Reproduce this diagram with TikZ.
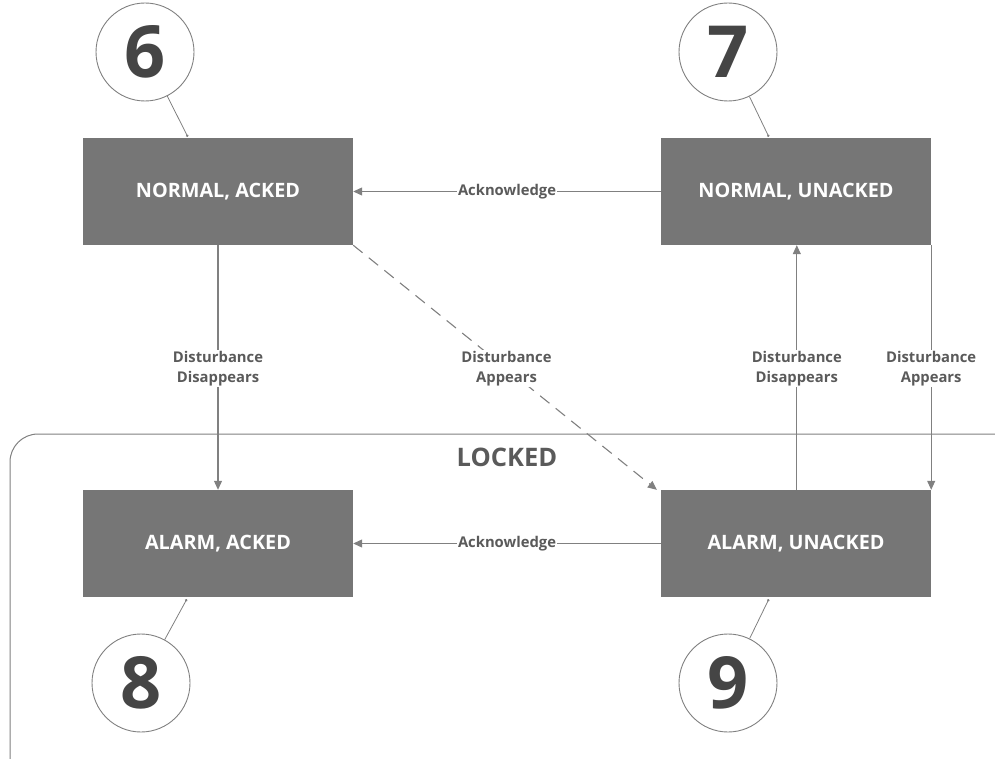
\documentclass[tikz,border=0pt]{standalone}
\usepackage{fontspec}
\setmainfont{Open Sans}
\usetikzlibrary{arrows.meta,calc}
\definecolor{boxgray}{HTML}{767676}
\definecolor{linegray}{HTML}{808080}
\definecolor{labgray}{HTML}{5A5A5A}
\definecolor{numgray}{HTML}{454545}
\tikzset{
  statebox/.style={draw=none,fill=boxgray,minimum width=270pt,minimum height=107pt,inner sep=0pt,
    text=white,font=\bfseries\fontsize{19.8}{23}\selectfont},
  numcirc/.style={circle,draw=linegray,line width=0.9pt,fill=white,minimum size=98pt,inner sep=0pt,
    text=numgray,font=\bfseries\fontsize{72}{74}\selectfont},
  conn/.style={draw=linegray,line width=1.1pt,-{Triangle[length=9pt,width=8pt]}},
  pin/.style={draw=linegray,line width=0.8pt,-{Circle[length=2.5pt]}},
  lab/.style={fill=white,inner xsep=1pt,inner ysep=1pt,align=center,text=labgray,
    font=\bfseries\fontsize{14.8}{20}\selectfont},
}
\begin{document}
\begin{tikzpicture}[x=1pt,y=-1pt]
\useasboundingbox (0,0) rectangle (995,759);
% locked frame
\draw[draw=linegray,line width=1pt,rounded corners=28pt] (996,434) -- (10,434) -- (10,762);
\node[text=labgray,font=\bfseries\fontsize{25.5}{28}\selectfont] (locked) at (507,457) {LOCKED};
% states
\node[statebox] (na) at (218,191.5) {NORMAL, ACKED};
\node[statebox] (nu) at (796,191.5) {NORMAL, UNACKED};
\node[statebox] (aa) at (218,543.5) {ALARM, ACKED};
\node[statebox] (au) at (796,543.5) {ALARM, UNACKED};
% number circles
\node[numcirc] (c6) at (145,52) {6};
\node[numcirc] (c7) at (728,52) {7};
\node[numcirc] (c8) at (141,683) {8};
\node[numcirc] (c9) at (728,683) {9};
\draw[pin] (c6) -- ($(na.north west)+(105,-1)$);
\draw[pin] (c7) -- ($(nu.north west)+(108,-1)$);
\draw[pin] (c8) -- ($(aa.south west)+(104,2)$);
\draw[pin] (c9) -- ($(au.south west)+(108,2)$);
% transitions
\draw[conn] (nu.west) -- node[lab] (l1) {Acknowledge} (na.east);
\draw[conn] (au.west) -- node[lab] (l2) {Acknowledge} (aa.east);
\draw[conn] (na.south) -- node[lab,pos=0.503] (l3) {Disturbance\\Disappears} (aa.north);
\draw[conn,dashed,dash pattern=on 12pt off 8pt] (na.south east) -- node[lab,pos=0.505] (l4) {Disturbance\\Appears} ($(au.north west)+(-4,0)$);
\draw[conn] ($(au.north west)+(136,0)$) -- node[lab,pos=0.497] (l5) {Disturbance\\Disappears} ($(nu.south west)+(136,0)$);
\draw[conn] (nu.south east) -- node[lab,pos=0.503] (l6) {Disturbance\\Appears} (au.north east);
\end{tikzpicture}
\end{document}
